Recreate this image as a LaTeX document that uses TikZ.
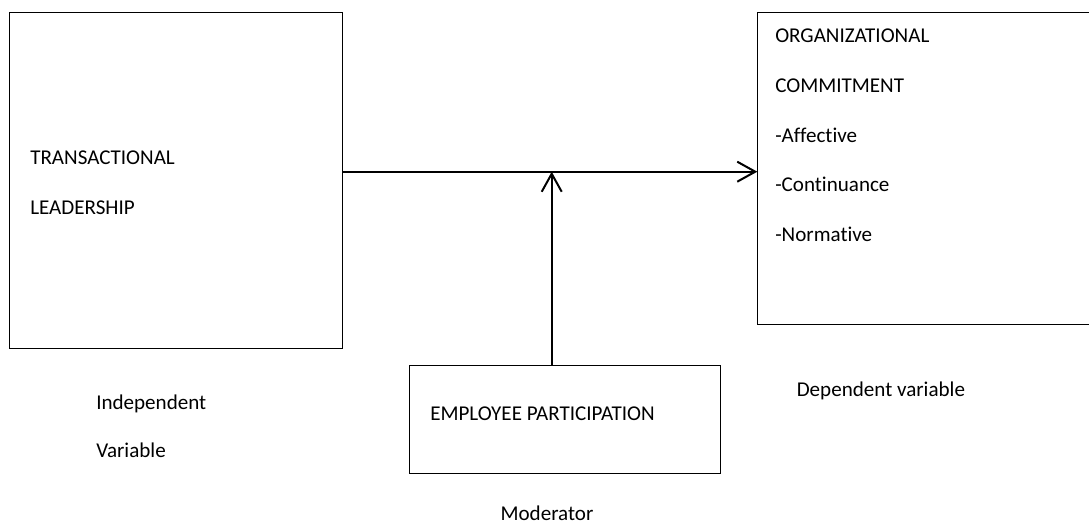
\documentclass[tikz,border=0pt]{standalone}
\usepackage{fontspec}
\setmainfont{Carlito}[Ligatures=NoCommon]
\usetikzlibrary{arrows.meta,positioning}

\begin{document}
\begin{tikzpicture}[
  x=0.75pt, y=-0.75pt,
  box/.style={draw, line width=0.8pt, inner sep=0pt, anchor=north west},
  lbl/.style={anchor=base west, inner sep=0pt, font=\fontsize{15.8}{18}\selectfont},
  arr/.style={-{Straight Barb[length=13.5pt, width=15pt]}, line width=1.5pt}
]
\useasboundingbox (0,0) rectangle (1089,523);

% boxes
\node[box, minimum width=249.3pt, minimum height=251.55pt] (lead) at (9.3,12.3) {};
\node[box, minimum width=258.75pt, minimum height=233.8pt] (org) at (757.3,12.3) {};
\node[box, minimum width=233pt, minimum height=81.2pt] (part) at (409.3,365) {};
\coordinate (meet) at (551.7,171.7);

% texts
\node[lbl] (t1) at (30,165) {TRANSACTIONAL};
\node[lbl] (t2) at (30,215) {LEADERSHIP};
\node[lbl] (o1) at (775,43) {ORGANIZATIONAL};
\node[lbl] (o2) at (775,93) {COMMITMENT};
\node[lbl] (o3) at (775,143) {-Affective};
\node[lbl] (o4) at (775,192) {-Continuance};
\node[lbl] (o5) at (775,242) {-Normative};
\node[lbl] (p1) at (430,421) {EMPLOYEE PARTICIPATION};
\node[lbl] (indep) at (96,410) {Independent};
\node[lbl] (var) at (96,458) {Variable};
\node[lbl] (dep) at (796.5,396.5) {Dependent variable};
\node[lbl, anchor=base] (mod) at (547,521) {Moderator};

% arrows
\draw[arr] (lead.east |- meet) -- (org.west |- meet);
\draw[arr] (part.north -| meet) -- (meet);
\end{tikzpicture}
\end{document}
